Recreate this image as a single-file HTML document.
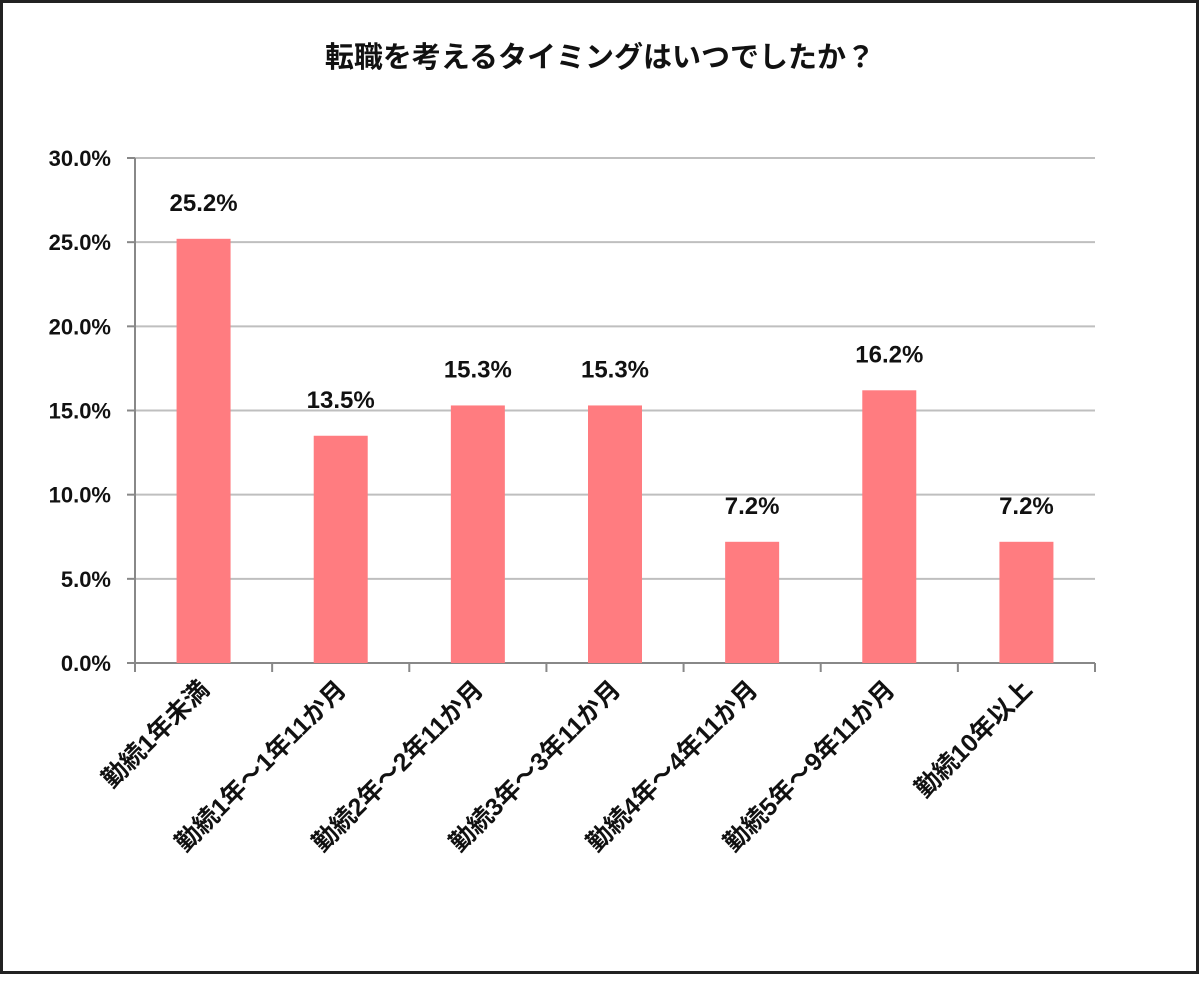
<!DOCTYPE html>
<html><head><meta charset="utf-8"><style>
html,body{margin:0;padding:0;background:#fff;}
svg text{font-family:"Liberation Sans","Noto Sans CJK JP",sans-serif;fill:#111;}
</style></head><body>
<svg width="1200" height="976" viewBox="0 0 1200 976" xmlns="http://www.w3.org/2000/svg">
<rect x="1.5" y="1.5" width="1196" height="971" fill="#fff" stroke="#222" stroke-width="3"/>
<text x="600" y="67" text-anchor="middle" font-size="29" font-weight="bold">転職を考えるタイミングはいつでしたか？</text>
<g id="grid"></g><g id="bars"></g><g id="labels"></g>
</svg>
<script>
const categories=["勤続1年未満","勤続1年～1年11か月","勤続2年～2年11か月","勤続3年～3年11か月","勤続4年～4年11か月","勤続5年～9年11か月","勤続10年以上"];
const values=[25.2,13.5,15.3,15.3,7.2,16.2,7.2];
const yTicks=[0,5,10,15,20,25,30];
const NS="http://www.w3.org/2000/svg";
const x0=135,x1=1095,y0=663,y30=158;
const y=v=>y0-(v/30)*(y0-y30);
const bw=(x1-x0)/categories.length;
const xc=i=>x0+bw*(i+0.5);
function mk(t,a,p){const e=document.createElementNS(NS,t);for(const k in a)e.setAttribute(k,a[k]);p.appendChild(e);return e;}
const g=document.getElementById('grid'),b=document.getElementById('bars'),l=document.getElementById('labels');
yTicks.forEach(v=>{
 if(v>0){const ln=mk('line',{x1:x0,x2:x1,y1:y(v),y2:y(v),stroke:'#bfbfbf','stroke-width':2},g);
 
 }
 const tk=mk('line',{x1:x0-8,x2:x0,y1:y(v),y2:y(v),stroke:'#888','stroke-width':2},g);
 
 
 const t=mk('text',{x:x0-24,y:y(v)+8,'text-anchor':'end','font-size':22,'font-weight':'bold'},g);t.textContent=v.toFixed(1)+'%';
 
 
});
const ax=mk('line',{x1:x0,x2:x0,y1:y30,y2:y0,stroke:'#888','stroke-width':2},g);


const xa=mk('line',{x1:x0,x2:x1,y1:y0,y2:y0,stroke:'#888','stroke-width':2},g);


for(let i=0;i<=categories.length;i++){const t=mk('line',{x1:x0+bw*i,x2:x0+bw*i,y1:y0,y2:y0+9,stroke:'#888','stroke-width':2},g);
 
 }
values.forEach((v,i)=>{
 const r=mk('rect',{x:xc(i)-27,y:y(v),width:54,height:y0-y(v),fill:'#ff7c80'},b);
 
 
 const t=mk('text',{x:xc(i),y:y(v)-28,'text-anchor':'middle','font-size':24,'font-weight':'bold'},l);t.textContent=v.toFixed(1)+'%';
 
 
 const cx=xc(i)+7,cy=691;
 const c=mk('text',{x:cx,y:cy,'text-anchor':'end','font-size':25,'font-weight':'bold',transform:`rotate(-45 ${cx} ${cy})`},l);c.textContent=categories[i];
 
 
});
</script>
</body></html>
